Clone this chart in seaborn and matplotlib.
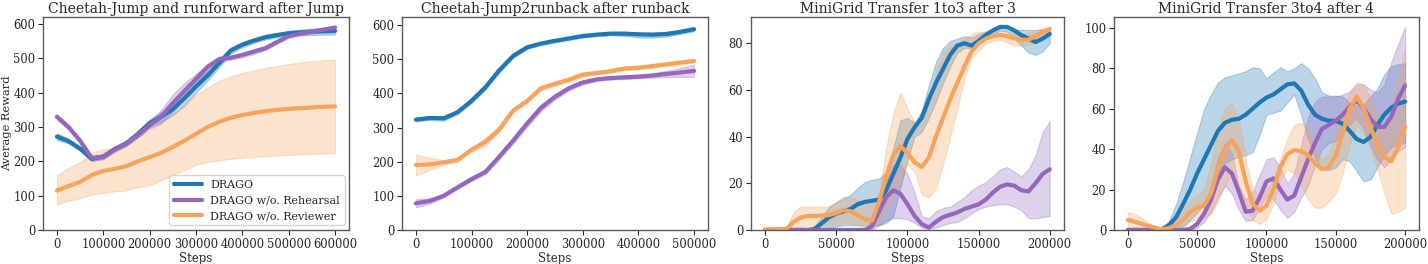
import numpy as np
import pandas as pd
import matplotlib
matplotlib.use("Agg")
import matplotlib.pyplot as plt
import seaborn as sns

sns.set_theme(style="ticks")
plt.rcParams["font.family"] = ["DejaVu Serif"]
plt.rcParams["axes.edgecolor"] = "0.35"
plt.rcParams["xtick.color"] = "0.15"
plt.rcParams["ytick.color"] = "0.15"

names = ["DRAGO", "DRAGO w/o. Rehearsal", "DRAGO w/o. Reviewer"]
colors = ["#1f77b4", "#9467bd", "#f6a35c"]

titles = ["Cheetah-Jump and runforward after Jump",
          "Cheetah-Jump2runback after runback",
          "MiniGrid Transfer 1to3 after 3",
          "MiniGrid Transfer 3to4 after 4"]

# ---- panel 1: Cheetah-Jump, steps every 25000 ----
steps1 = list(range(0, 600001, 25000))
blue1 = [272, 259, 237, 207, 214, 236, 253, 280, 311, 330, 352, 384, 418, 450, 486, 523, 540, 552, 562, 568, 573, 576, 578, 579, 580]
blue1_lo = [262, 252, 231, 200, 207, 229, 245, 270, 300, 315, 335, 362, 400, 436, 474, 514, 532, 545, 555, 561, 565, 567, 568, 569, 570]
blue1_hi = [282, 266, 243, 214, 221, 243, 261, 290, 322, 345, 370, 404, 436, 464, 498, 532, 548, 559, 569, 575, 581, 584, 587, 589, 591]
purple1 = [330, 300, 260, 210, 213, 235, 252, 277, 305, 330, 370, 405, 440, 475, 498, 502, 510, 520, 530, 548, 565, 572, 578, 584, 590]
purple1_lo = [322, 293, 254, 203, 206, 228, 245, 270, 295, 310, 345, 385, 425, 465, 490, 496, 503, 513, 524, 542, 560, 567, 573, 579, 584]
purple1_hi = [338, 307, 266, 217, 220, 242, 259, 285, 315, 350, 395, 428, 455, 485, 506, 508, 517, 527, 536, 554, 570, 577, 583, 589, 596]
orange1 = [115, 128, 140, 160, 172, 178, 186, 200, 212, 225, 242, 260, 280, 300, 315, 327, 335, 341, 346, 350, 353, 355, 357, 359, 360]
orange1_lo = [75, 85, 92, 103, 108, 112, 115, 125, 130, 145, 160, 175, 190, 198, 203, 207, 210, 213, 215, 217, 219, 220, 222, 223, 224]
orange1_hi = [160, 180, 198, 225, 235, 240, 250, 270, 290, 312, 335, 365, 395, 415, 435, 448, 458, 465, 472, 478, 484, 488, 492, 495, 497]

# ---- panel 2: Cheetah-Jump2runback, steps every 25000 ----
steps2 = list(range(0, 500001, 25000))
blue2 = [323, 328, 327, 345, 378, 418, 468, 510, 535, 546, 554, 561, 568, 572, 575, 575, 573, 572, 574, 580, 588]
blue2_lo = [318, 322, 320, 339, 372, 411, 461, 504, 530, 541, 549, 556, 563, 567, 570, 568, 564, 563, 566, 574, 582]
blue2_hi = [328, 333, 333, 351, 384, 425, 475, 516, 540, 551, 559, 566, 573, 577, 580, 580, 578, 578, 580, 586, 594]
purple2 = [78, 85, 100, 125, 149, 170, 215, 262, 312, 358, 390, 415, 432, 441, 445, 447, 449, 452, 457, 461, 466]
purple2_lo = [66, 77, 95, 120, 143, 163, 207, 253, 302, 348, 382, 408, 426, 436, 440, 442, 444, 446, 448, 448, 448]
purple2_hi = [90, 93, 105, 130, 155, 177, 223, 271, 322, 368, 398, 422, 438, 446, 450, 452, 455, 459, 466, 474, 485]
orange2 = [190, 192, 198, 205, 235, 258, 295, 350, 378, 415, 428, 440, 455, 460, 465, 473, 475, 480, 485, 490, 495]
orange2_lo = [160, 175, 192, 200, 229, 246, 288, 344, 372, 409, 422, 434, 449, 455, 460, 468, 470, 475, 480, 485, 490]
orange2_hi = [220, 212, 204, 210, 241, 270, 302, 356, 384, 421, 434, 446, 461, 465, 470, 478, 480, 485, 490, 495, 500]

# ---- panel 3: MiniGrid 1to3, steps every 5000 ----
steps3 = list(range(0, 200001, 5000))
blue3 = [0, 0, 0, 0, 0, 0, 0, 0.5, 3, 5.5, 7, 8, 9, 11, 12, 12.5, 13, 17, 24, 31, 39,
         44, 48, 56, 63, 69, 75, 79, 80, 79, 81, 83.5, 85.5, 87, 87, 85.5, 83.5, 82, 80.5, 82, 84]
blue3_lo = [0, 0, 0, 0, 0, 0, 0, 0, 0.5, 1, 1.5, 2, 2, 2, 2, 2, 2, 3, 6, 18, 30,
            40, 42, 48, 55, 63, 70, 76, 78, 78, 80, 82, 84, 85.5, 85, 82, 79, 76, 75, 76.5, 80]
blue3_hi = [0, 0, 0, 0, 0, 0, 0, 2, 6, 10, 12, 13.5, 15, 18, 20.5, 21.5, 22, 25, 35, 47, 48,
            46, 51, 62, 72, 78, 81, 82, 83, 82.5, 84, 85, 86, 87, 87, 86, 85.7, 85.7, 85.7, 86, 86.4]
purple3 = [0] * 15 + [1.5, 8, 14, 17, 15.5, 11,
           6, 2.5, 1, 3.5, 5.5, 6.5, 7.5, 9, 10, 11, 13, 16, 18.5, 19.5, 19, 17, 16.5, 20, 24, 26]
purple3_lo = [0] * 15 + [0, 2, 4, 5, 5, 4.5,
              3, 1, 0.5, 1, 2, 3, 3.5, 5, 7, 9, 10, 10.5, 11, 11, 10, 8.5, 5, 5, 5.5, 6]
purple3_hi = [0] * 15 + [5, 15, 21, 28, 28, 24,
              16, 6, 5, 8, 9.5, 10, 12, 14, 17, 19, 20.5, 23, 26, 27, 25, 23, 26, 32, 42, 46.5]
orange3 = [0.3, 0.3, 0.3, 0.5, 3.5, 5.3, 6, 6, 6.2, 6.4, 7.2, 8.5, 8, 6.2, 4.5, 4, 12, 23, 32, 36, 33,
           29, 27, 31, 40, 48, 56, 63, 70, 76.4, 80, 82, 83, 83.6, 83, 82, 81.5, 81.5, 83, 85, 86]
orange3_lo = [0, 0, 0, 0, 0.5, 1, 2, 2, 2, 2, 2, 3, 3, 2, 1, 1, 3, 10, 15, 22, 28,
              25, 15, 14, 18, 28, 40, 52, 65, 74, 77, 80, 81, 81.5, 80.5, 79, 79, 79.5, 81, 83, 85]
orange3_hi = [0.6, 0.6, 0.6, 1, 7.9, 10, 10, 10, 10, 10, 12, 14.3, 14, 13, 12, 13, 15, 35, 50, 59, 52,
              46, 45, 55, 68, 76, 79, 80, 82, 84, 85, 85, 85.5, 85.5, 85, 84.5, 84, 84.5, 85.5, 86.5, 87]

# ---- panel 4: MiniGrid 3to4, steps every 5000 ----
steps4 = list(range(0, 200001, 5000))
blue4 = [0, 0, 0, 0, 0, 0.5, 2.5, 6.5, 13, 20, 28, 35, 42, 49, 53, 54.5, 55, 57, 60, 63, 65.5,
         67, 69.5, 72, 72.5, 69, 62, 57, 55, 54, 54, 52.5, 49, 45, 43.5, 46, 52, 57, 60.5, 62.5, 63.5]
blue4_lo = [0, 0, 0, 0, 0, 0, 0, 0.5, 2, 5, 8.5, 13, 20, 28, 33, 35, 36, 37, 38.5, 47, 57,
            58, 59, 63, 67, 57, 45, 36, 30, 29.5, 31, 35, 34, 29, 24, 25, 31, 37, 41, 42.5, 43]
blue4_hi = [0, 0, 0, 0, 0, 1, 5, 13, 24, 36, 48, 60, 67, 73, 75.5, 76.5, 77.5, 78.5, 80.5, 80, 75,
            78, 80.5, 78.5, 80, 82.5, 80, 75, 68, 66.5, 66.5, 66, 63, 61, 62, 66, 70, 77, 81, 82, 82.5]
purple4 = [0] * 9 + [0.5, 3, 8, 15, 25, 31, 28, 19, 9, 9.5, 16, 24,
           25.5, 20, 15, 17, 26, 35, 43, 50, 52, 54, 57, 61, 64, 60.5, 55, 51, 51, 56, 65, 71.5]
purple4_lo = [0] * 10 + [1, 4, 9, 16, 22, 18, 10, 4.5, 5, 11, 17,
              15, 10, 6, 9, 16, 22, 32, 40, 43, 44, 48, 52, 55, 50, 42, 35, 31, 35, 39, 41]
purple4_hi = [0] * 9 + [1, 4, 11, 22, 36, 43, 38, 22, 15, 19, 27, 35,
              36, 31, 23, 28, 42, 56, 63.5, 66, 66, 66, 67, 68.5, 72, 72, 69.5, 68, 72, 83, 92, 100.5]
orange4 = [5, 4, 3, 2, 1, 0.3, 1, 2.5, 5, 9, 11, 12, 18, 30, 40, 44.5, 39, 24, 13, 9.5, 12,
           20, 31, 37.5, 39.5, 39, 37, 33, 30, 31, 37, 48, 60, 66, 60.5, 51, 42, 36, 34, 41, 51]
orange4_lo = [0.5, 0.5, 0.5, 0.3, 0, 0, 0.3, 0.5, 1.5, 4, 6, 6, 8, 14, 22, 28, 22, 12, 5, 3, 5,
              13, 25, 30, 28, 22, 15, 11, 11, 14, 18, 28, 42, 52, 48, 40, 30, 18, 8, 9, 11]
orange4_hi = [9, 8, 6, 3.5, 1.5, 0.8, 2, 5, 10, 15, 17, 20, 33, 50, 60, 62.5, 55, 35, 20, 17, 20,
              25, 35, 45, 52, 53, 50, 40, 35, 38, 48, 60, 68, 73, 72, 65, 55, 53, 58, 75, 90]

panels = [
    (steps1, [(blue1, blue1_lo, blue1_hi), (purple1, purple1_lo, purple1_hi), (orange1, orange1_lo, orange1_hi)]),
    (steps2, [(blue2, blue2_lo, blue2_hi), (purple2, purple2_lo, purple2_hi), (orange2, orange2_lo, orange2_hi)]),
    (steps3, [(blue3, blue3_lo, blue3_hi), (purple3, purple3_lo, purple3_hi), (orange3, orange3_lo, orange3_hi)]),
    (steps4, [(blue4, blue4_lo, blue4_hi), (purple4, purple4_lo, purple4_hi), (orange4, orange4_lo, orange4_hi)]),
]
ylims = [621, 624, 91.3, 105.4]
xticks = [np.arange(0, 600001, 100000), np.arange(0, 500001, 100000),
          np.arange(0, 200001, 50000), np.arange(0, 200001, 50000)]
yticks = [np.arange(0, 601, 100), np.arange(0, 601, 100),
          np.arange(0, 81, 20), np.arange(0, 101, 20)]

fig = plt.figure(figsize=(14.28, 2.64), dpi=100)
boxes = [[0.0301, 0.129, 0.2143, 0.807],
         [0.2815, 0.129, 0.2143, 0.807],
         [0.5259, 0.129, 0.2192, 0.807],
         [0.7801, 0.129, 0.2136, 0.807]]

for i, (steps, series) in enumerate(panels):
    ax = fig.add_axes(boxes[i])
    for (mean, lo, hi), c, nm in zip(series, colors, names):
        ax.fill_between(steps, lo, hi, color=c, alpha=0.3, linewidth=0.8)
        sns.lineplot(x=steps, y=mean, ax=ax, color=c, linewidth=3, label=nm)
    ax.set_ylim(0, ylims[i])
    ax.set_xticks(xticks[i])
    ax.set_yticks(yticks[i])
    ax.tick_params(labelsize=8.3, length=3.5, width=0.8, pad=2)
    ax.set_title(titles[i], fontsize=10, pad=3)
    ax.set_xlabel("Steps", fontsize=8.5, labelpad=1)
    for sp in ax.spines.values():
        sp.set_linewidth(1.0)
    if i == 0:
        ax.set_ylabel("Average Reward", fontsize=8.2, labelpad=1)
        ax.legend(loc="lower right", fontsize=8, handlelength=2.5, borderaxespad=0.4)
    else:
        ax.set_ylabel("")
        if ax.get_legend() is not None:
            ax.get_legend().remove()

fig.savefig("out.png", dpi=100)
